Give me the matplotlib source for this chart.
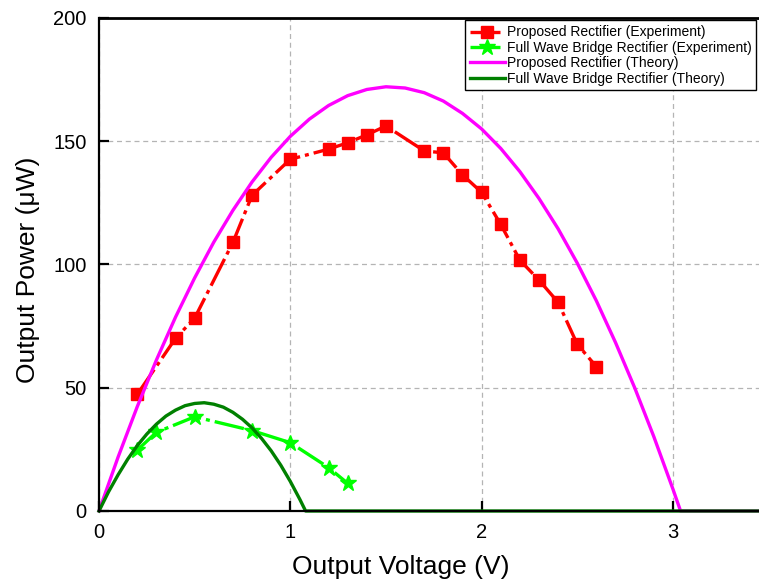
import matplotlib
matplotlib.use("Agg")
import matplotlib.pyplot as plt
import numpy as np

plt.rcParams['font.family'] = ['Liberation Sans', 'DejaVu Sans']

# measured points
v_prop_exp = [0.2, 0.4, 0.5, 0.7, 0.8, 1.0, 1.2, 1.3, 1.4, 1.5, 1.7, 1.8, 1.9, 2.0, 2.1, 2.2, 2.3, 2.4, 2.5, 2.6]
p_prop_exp = [47.3, 70.0, 78.2, 108.9, 128.0, 142.6, 146.7, 149.3, 152.5, 156.1, 146.0, 145.2, 136.3, 129.2,
              116.2, 101.7, 93.6, 84.6, 67.6, 58.5]

v_fwb_exp = [0.2, 0.3, 0.5, 0.8, 1.0, 1.2, 1.3]
p_fwb_exp = [24.7, 31.9, 38.2, 32.6, 27.7, 17.6, 11.2]

# theory curves
v_prop_th = [0.0, 0.1, 0.2, 0.3, 0.4, 0.5, 0.6, 0.7, 0.8, 0.9, 1.0, 1.1, 1.2, 1.3, 1.4, 1.5, 1.6, 1.7,
             1.8, 1.9, 2.0, 2.1, 2.2, 2.3, 2.4, 2.5, 2.6, 2.7, 2.8, 2.9, 3.0, 3.04, 3.5]
p_prop_th = [0.0, 21.9, 42.3, 61.2, 78.6, 94.5, 109.0, 121.9, 133.4, 143.4, 151.9, 158.9, 164.4, 168.4,
             170.9, 172.0, 171.5, 169.6, 166.2, 161.2, 154.9, 147.0, 137.6, 126.7, 114.4, 100.5, 85.2,
             68.3, 50.0, 30.2, 8.9, 0.0, 0.0]

v_fwb_th = [0.0, 0.05, 0.1, 0.15, 0.2, 0.25, 0.3, 0.35, 0.4, 0.45, 0.5, 0.55, 0.6, 0.65, 0.7, 0.75,
            0.8, 0.85, 0.9, 0.95, 1.0, 1.05, 1.08, 3.5]
p_fwb_th = [0.0, 7.8, 14.7, 21.0, 26.5, 31.2, 35.2, 38.5, 40.9, 42.7, 43.6, 43.9, 43.3, 42.1, 40.0, 37.2,
            33.7, 29.4, 24.4, 18.6, 12.0, 4.7, 0.0, 0.0]

fig = plt.figure(figsize=(7.59, 5.86), dpi=100)
ax = fig.add_axes([99/759, 75/586, 660/759, 493.3/586])

dash = (0, (9, 1.5, 1.2, 1.5))
ax.plot(v_prop_exp, p_prop_exp, color='#ff0000', lw=2.4, ls=dash,
        marker='s', ms=8, mec='#ff0000', label='Proposed Rectifier (Experiment)')
ax.plot(v_fwb_exp, p_fwb_exp, color='#00ff00', lw=2.4, ls=dash,
        marker='*', ms=12, mec='#00ff00', label='Full Wave Bridge Rectifier (Experiment)')
ax.plot(v_prop_th, p_prop_th, color='#ff00ff', lw=2.4, clip_on=False,
        label='Proposed Rectifier (Theory)')
ax.plot(v_fwb_th, p_fwb_th, color='#008000', lw=2.4, clip_on=False,
        label='Full Wave Bridge Rectifier (Theory)')

ax.set_xlim(0, 3.45)
ax.set_ylim(0, 200)
ax.set_xticks([0, 1, 2, 3])
ax.set_yticks([0, 50, 100, 150, 200])
ax.grid(True, color='#b4b4b4', ls=(0, (4, 3)), lw=0.9)
ax.set_axisbelow(True)

for s in ['left', 'bottom']:
    ax.spines[s].set_linewidth(1.6)
ax.spines['top'].set_linewidth(2.0)
ax.spines['right'].set_visible(False)
ax.tick_params(direction='in', length=7, width=1.6, labelsize=14.5, pad=9)

ax.set_xlabel('Output Voltage (V)', fontsize=19)
ax.set_ylabel('Output Power (\u03bcW)', fontsize=19)
ax.xaxis.set_label_coords((401 - 99) / 660, (511 - 555) / 493.3)
ax.xaxis.label.set_va('top')
ax.yaxis.set_label_coords((28 - 99) / 660, (511 - 270) / 493.3)
ax.yaxis.label.set_va('center')

leg = ax.legend(loc='upper right', fontsize=10, handlelength=2.5, labelspacing=0.1,
                borderaxespad=0.2, fancybox=False, framealpha=1, edgecolor='black',
                handletextpad=0.15, borderpad=0.35, handleheight=0.6)
leg.get_frame().set_linewidth(1.0)

fig.savefig('out.png', dpi=100)
